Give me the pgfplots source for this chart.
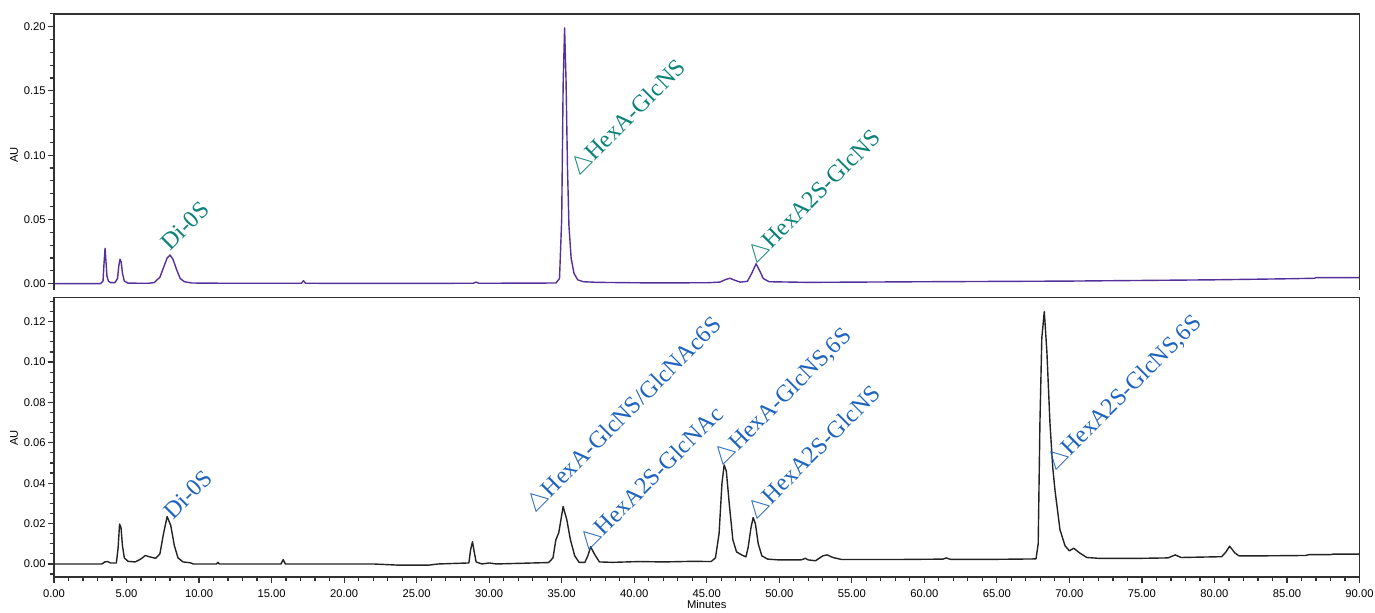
\documentclass[border=0pt]{standalone}
\usepackage{pgfplots}
\pgfplotsset{compat=1.18}
\usepackage{fontspec}
\setmainfont{Liberation Serif}
\newfontfamily\arialf{Liberation Sans}
\definecolor{topline}{RGB}{85,48,155}
\definecolor{teallab}{RGB}{10,130,120}
\definecolor{bluelab}{RGB}{30,100,190}
\definecolor{framec}{RGB}{50,50,50}
\definecolor{botline}{RGB}{35,35,35}
\newcommand{\tri}{$\triangle$}
\pgfplotsset{
 chrom/.style={
  scale only axis, width=652.75pt, xmin=0, xmax=90, clip=false,
  axis line style={line width=0.75pt, draw=framec},
  tick style={line width=0.6pt, draw=framec},
  major tick length=3pt, minor tick length=1.8pt,
  tick align=outside,
  ytick pos=left, xtick pos=left,
  ticklabel style={font=\arialf\fontsize{5.6}{6}\selectfont, text=black},
  yticklabel style={inner sep=1pt},
 },
}
\tikzset{lab/.style={anchor=base west, rotate=45, inner sep=0pt, font=\fontsize{12}{14}\selectfont}}
\begin{document}
\begin{tikzpicture}[x=1pt,y=1pt]
\useasboundingbox (0,0) rectangle (687.5,306.5);
% ---------- top panel ----------
\begin{axis}[chrom, at={(27pt,161.45pt)}, anchor=south west, height=138.15pt,
  ymin=-0.005, ymax=0.21,
  ytick={0,0.05,0.1,0.15,0.2}, yticklabels={0.00,0.05,0.10,0.15,0.20},
  minor ytick={0.01,0.02,0.03,0.04,0.06,0.07,0.08,0.09,0.11,0.12,0.13,0.14,0.16,0.17,0.18,0.19,0.21},
  xtick=\empty, axis line style={draw=none}]
\addplot[topline, line width=0.7pt, line join=round] coordinates {
(0,0) (3.2,0) (3.38,0.002) (3.45,0.016) (3.52,0.0275) (3.58,0.018) (3.65,0.006) (3.75,0.002) (3.9,0.0008) (4.2,0.0008) (4.38,0.004) (4.47,0.014) (4.55,0.019) (4.63,0.017) (4.72,0.008) (4.85,0.002) (5.1,0.0004) (6.5,0.0003) (6.9,0.0008) (7.3,0.005) (7.6,0.014) (7.8,0.020) (8.0,0.0223) (8.2,0.019) (8.45,0.011) (8.7,0.004) (9.0,0.0015) (9.5,0.0005) (12,0.0003) (17.05,0.0003) (17.2,0.0022) (17.35,0.0003) (22,0.0002) (28.9,0.0003) (29.1,0.0012) (29.3,0.0003) (34.6,0.0005) (34.85,0.004) (35.0,0.05) (35.1,0.155) (35.2,0.199) (35.3,0.158) (35.4,0.09) (35.5,0.045) (35.65,0.02) (35.85,0.008) (36.1,0.003) (36.5,0.0015) (37.5,0.001) (41,0.0006) (45,0.0007) (45.9,0.0012) (46.3,0.0032) (46.6,0.0042) (46.9,0.0028) (47.3,0.0012) (47.8,0.0018) (48.1,0.008) (48.4,0.0155) (48.65,0.010) (48.9,0.004) (49.3,0.0015) (52,0.001) (60,0.0015) (70,0.002) (75,0.0025) (80,0.003) (85,0.0038) (86.9,0.0042) (87.0,0.0047) (90,0.0047)
};
\draw[framec, line width=0.75pt] (rel axis cs:0,0) -- (rel axis cs:0,1) -- (rel axis cs:1,1) -- (rel axis cs:1,0);
\node[lab, text=teallab] at (axis cs:8.0,0.0245) {Di-0S};
\node[lab, text=teallab] at (axis cs:36.2,0.083) {\tri HexA-GlcNS};
\node[lab, text=teallab] at (axis cs:48.4,0.0145) {\tri HexA2S-GlcNS};
\end{axis}
% ---------- bottom panel ----------
\begin{axis}[chrom, at={(27pt,17.95pt)}, anchor=south west, height=139.85pt,
  ymin=-0.0065, ymax=0.132,
  ytick={0,0.02,0.04,0.06,0.08,0.10,0.12}, yticklabels={0.00,0.02,0.04,0.06,0.08,0.10,0.12},
  minor ytick={-0.005,0.005,0.01,0.015,0.025,0.03,0.035,0.045,0.05,0.055,0.065,0.07,0.075,0.085,0.09,0.095,0.105,0.11,0.115,0.125,0.13},
  xtick={0,5,...,90},
  xticklabels={0.00,5.00,10.00,15.00,20.00,25.00,30.00,35.00,40.00,45.00,50.00,55.00,60.00,65.00,70.00,75.00,80.00,85.00,90.00},
  minor x tick num=4,
  xlabel={Minutes},
  xlabel style={at={(rel axis cs:0.5,0)}, anchor=center, yshift=-13.5pt, font=\arialf\fontsize{5.6}{6}\selectfont}]
\addplot[botline, line width=0.7pt, line join=round] coordinates {
(0,0) (3.3,0) (3.5,0.001) (3.7,0.0012) (3.9,0.0005) (4.3,0.0005) (4.42,0.008) (4.52,0.0198) (4.62,0.018) (4.72,0.009) (4.85,0.003) (5.1,0.0013) (5.6,0.001) (6.0,0.0025) (6.3,0.0042) (6.6,0.0035) (7.0,0.0028) (7.3,0.005) (7.55,0.015) (7.8,0.0235) (8.05,0.019) (8.3,0.009) (8.55,0.003) (8.9,0.001) (9.4,0.0006) (9.6,0) (11.2,0) (11.3,0.0008) (11.4,0) (15.65,0) (15.8,0.0022) (15.95,0) (22,0) (23.8,-0.0006) (25.8,-0.0006) (26.5,0) (28.6,0.0005) (28.72,0.007) (28.85,0.011) (28.97,0.006) (29.1,0.001) (29.5,0) (30,0.0005) (30.5,0) (34.1,0.0007) (34.4,0.003) (34.6,0.012) (34.8,0.0155) (35.1,0.0284) (35.35,0.022) (35.6,0.012) (35.9,0.004) (36.2,0.0008) (36.6,0.0008) (36.8,0.004) (37.0,0.0085) (37.25,0.005) (37.6,0.001) (38.5,0.0008) (40.4,0.0012) (42,0.001) (44,0.0013) (45.3,0.0012) (45.6,0.003) (45.85,0.015) (46.05,0.040) (46.2,0.049) (46.35,0.046) (46.55,0.030) (46.8,0.012) (47.05,0.006) (47.4,0.0045) (47.7,0.0035) (47.85,0.008) (48.05,0.018) (48.2,0.023) (48.35,0.020) (48.55,0.010) (48.8,0.004) (49.2,0.0024) (50,0.002) (51.5,0.002) (51.8,0.0028) (52.0,0.002) (52.5,0.0016) (53.0,0.004) (53.3,0.0045) (53.7,0.0032) (54.3,0.0022) (58,0.0022) (61.3,0.0024) (61.5,0.003) (61.8,0.0023) (65,0.0023) (67.7,0.0025) (67.85,0.01) (67.97,0.07) (68.1,0.112) (68.27,0.125) (68.45,0.105) (68.66,0.07) (68.85,0.048) (69.0,0.037) (69.35,0.017) (69.7,0.009) (70.0,0.0065) (70.3,0.0078) (70.7,0.0055) (71.2,0.0032) (72,0.0028) (75,0.0028) (76.8,0.003) (77.3,0.0045) (77.7,0.0032) (80.5,0.0036) (80.8,0.006) (81.05,0.0088) (81.4,0.0055) (81.7,0.004) (83,0.004) (86.3,0.0042) (86.5,0.0046) (88,0.0046) (88.2,0.0049) (90,0.0049)
};
\node[lab, text=bluelab] at (axis cs:8.2,0.0215) {Di-0S};
\node[lab, text=bluelab] at (axis cs:33.2,0.025) {\tri HexA-GlcNS/GlcNAc6S};
\node[lab, text=bluelab] at (axis cs:36.85,0.006) {\tri HexA2S-GlcNAc};
\node[lab, text=bluelab] at (axis cs:46.1,0.048) {\tri HexA-GlcNS,6S};
\node[lab, text=bluelab] at (axis cs:48.4,0.0215) {\tri HexA2S-GlcNS};
\node[lab, text=bluelab] at (axis cs:69.0,0.0455) {\tri HexA2S-GlcNS,6S};
\end{axis}
\node[rotate=90, font=\arialf\fontsize{5.6}{6}\selectfont] at (7pt,229pt) {AU};
\node[rotate=90, font=\arialf\fontsize{5.6}{6}\selectfont] at (7pt,87.5pt) {AU};
\end{tikzpicture}
\end{document}
